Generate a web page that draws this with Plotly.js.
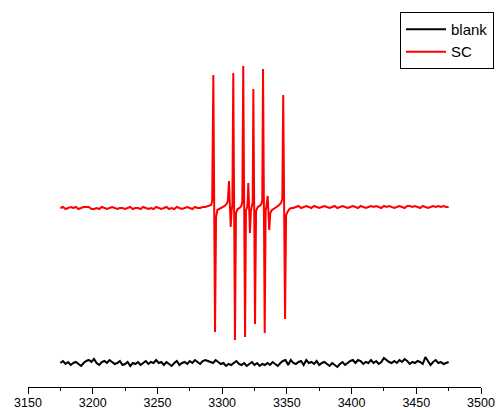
<!DOCTYPE html>
<html>
<head>
<meta charset="utf-8">
<script src="https://cdn.plot.ly/plotly-3.0.1.min.js"></script>
<style>html,body{margin:0;padding:0;background:#fff;}#chart{width:496px;height:410px;}</style>
</head>
<body>
<div id="chart"></div>
<script>
// Magnetic field (G) grid for the noisy baselines
var blankStart = 3175, blankStep = 2;
// blank trace intensity (a.u.)
var blankY = [
24,26,23,25,22,24,25,23,21,24,
26,27,25,28,24,22,25,26,24,27,
25,23,24,26,22,23,25,21,24,23,
25,22,24,26,23,25,24,27,24,25,
22,25,23,21,24,26,22,24,25,23,
26,24,27,25,23,26,27,26,25,24,
27,25,23,24,21,23,22,24,26,23,
22,24,21,23,25,22,24,21,23,22,
24,22,25,23,21,24,26,27,22,27,
24,23,25,26,22,27,24,25,23,26,
22,24,25,23,21,24,22,20,23,25,
22,24,26,27,24,27,26,23,25,24,
27,24,26,23,25,29,27,25,24,26,
24,27,25,28,26,23,25,24,26,25,
23,30,26,22,25,27,24,25,23,24,
25];

// SC trace: left baseline (3175..3289 step 2)
var scLeftStart = 3175;
var scLeftY = [
179,180,178,179,180,179,180,178,179,180,
180,180,178,178,179,178,180,179,178,179,
180,179,178,179,179,178,179,180,178,179,
179,178,180,179,178,179,178,180,179,178,
179,180,178,179,178,180,179,178,179,180,
179,178,180,179,179,180,180,181];

// SC trace: hyperfine-line region (field, intensity)
var scPeakX = [3290.5,3291.5,3292.3,3293.2,3294.5,3295.3,3296.3,3298,3300,3302,3303.5,3304.4,
3305.3,3306.6,3307.3,3307.9,3308.6,3309.9,3310.7,3312,3313.5,3314.8,3315.6,
3316.3,3317.7,3318.4,3319.3,3319.7,3320.2,3321.5,3322.2,3323,3323.6,
3324.1,3325.4,3326.2,3327.5,3329,3330.3,3331,3331.6,3332.9,3333.6,3334.3,
3335.2,3336.4,3337.2,3338.5,3340,3342,3344,3345.5,3346.5,3347.2,3348.6,
3349.4,3350.5,3352,3353.5];
var scPeakY = [181,182,186,312,55,170,177,178,179,181,183,186,
206,160,176,182,314,47,174,178,179,181,185,
321,50,176,180,184,204,154,176,181,185,
298,63,176,180,181,183,187,318,54,176,182,
191,157,174,177,178,180,182,184,188,292,68,
172,175,178,179];

// SC trace: right baseline (3355..3475 step 2)
var scRightStart = 3355;
var scRightY = [
179,180,181,179,180,181,180,179,181,180,
179,180,181,180,179,180,181,179,180,181,
180,179,180,181,180,179,181,180,179,180,
181,180,181,180,179,181,180,181,180,179,
180,181,180,179,181,181,180,181,180,179,
181,180,179,180,181,180,181,180,181,180,
180];

function grid(start, step, n){ var a=[]; for(var i=0;i<n;i++) a.push(start+i*step); return a; }

var blankX = grid(blankStart, blankStep, blankY.length);
var scX = grid(scLeftStart, 2, scLeftY.length).concat(scPeakX, grid(scRightStart, 2, scRightY.length));
var scY = scLeftY.concat(scPeakY, scRightY);

var traces = [
  {x: blankX, y: blankY, name: 'blank', type: 'scatter', mode: 'lines', line: {color: '#000000', width: 2}},
  {x: scX, y: scY, name: 'SC', type: 'scatter', mode: 'lines', line: {color: '#ff0000', width: 2}}
];

var layout = {
  width: 496, height: 410,
  margin: {l: 28, r: 15, t: 10, b: 23, pad: 0, autoexpand: false},
  paper_bgcolor: '#ffffff', plot_bgcolor: '#ffffff',
  font: {family: 'Arial, "Liberation Sans", sans-serif', color: '#000000', size: 13},
  showlegend: true,
  legend: {x: 1.0287, xanchor: 'right', y: 0.995, yanchor: 'top', bgcolor: '#ffffff',
           bordercolor: '#000000', borderwidth: 1, font: {size: 15}, itemwidth: 40, tracegroupgap: 0},
  xaxis: {range: [3150, 3500], tick0: 3150, dtick: 50, showgrid: false, zeroline: false,
          showline: true, linecolor: '#000000', linewidth: 1, ticks: 'outside', ticklen: 6,
          tickcolor: '#000000', tickfont: {size: 12.5}, ticklabelstandoff: -2, automargin: false,
          minor: {ticks: 'outside', ticklen: 3, dtick: 25, tick0: 3150, tickcolor: '#000000', showgrid: false}},
  yaxis: {range: [0, 377], visible: false, showgrid: false, zeroline: false, fixedrange: true}
};

Plotly.newPlot('chart', traces, layout, {displayModeBar: false, staticPlot: true});
</script>
</body>
</html>
